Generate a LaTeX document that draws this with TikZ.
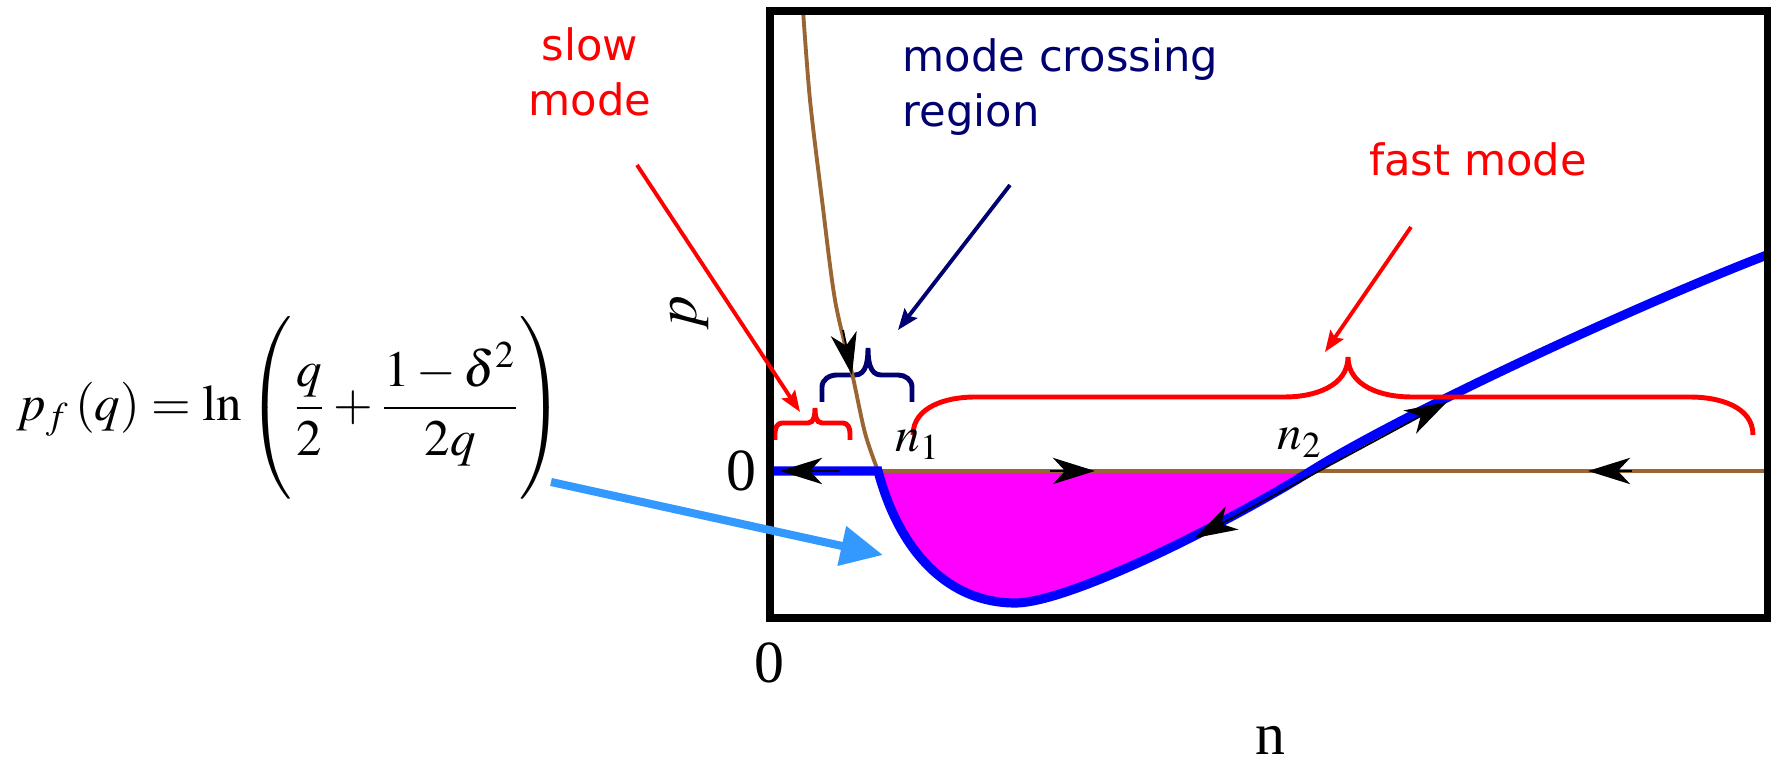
\documentclass[tikz,border=0pt]{standalone}
\usepackage{mathptmx}
\usepackage{fontspec}
\setmainfont{Liberation Serif}
\newfontfamily\handfont{DejaVu Sans}
\usetikzlibrary{arrows.meta}
\definecolor{soil}{RGB}{153,102,51}
\definecolor{ink}{RGB}{0,0,112}
\definecolor{sky}{RGB}{51,153,255}
\definecolor{fuchsia}{RGB}{255,0,255}

\begin{document}
\begin{tikzpicture}[x=0.01cm, y=0.01cm,
  >={Stealth[length=12pt,width=7.5pt,inset=3.5pt]},
  frame/.style={draw=black, line width=2pt},
  flow/.style={->, line width=0.5pt, black},
  hand/.style={font=\handfont\fontsize{12.3}{15.6}\selectfont, inner sep=0pt},
  axislab/.style={font=\fontsize{17}{20}\selectfont, inner sep=0pt},
  sublab/.style={font=\fontsize{14}{17}\selectfont, inner sep=0pt},
  eqlab/.style={font=\fontsize{14.5}{17}\selectfont, inner sep=0pt},
  pointer/.style={-{Stealth[length=6pt,width=4.5pt,inset=1pt]}, line width=1.1pt},
  bracket/.style={line width=1.4pt}
]
\useasboundingbox (0,0) rectangle (1772,764);

% area under the zero line
\fill[fuchsia] (878,293) .. controls (900,210) and (950,161) .. (1015,161)
  .. controls (1070,161) and (1231,243) .. (1311,293) -- cycle;

\draw[bracket, ink] (822,362) -- (822,377) to[out=90,in=180] (837,389) -- (855,389)
  to[out=0,in=-90] (868,416) to[out=-90,in=180] (881,389) -- (898,389)
  to[out=0,in=90] (912,377) -- (912,362);

\draw[soil, line width=1.1pt] plot[smooth] coordinates {(803,754) (810,664) (822,564)
  (835,464) (852,391) (865,331) (878,293)} -- (1767,293);

\draw[blue, line width=2.6pt] (770,293) -- (878,293)
  .. controls (900,210) and (950,161) .. (1015,161)
  .. controls (1070,161) and (1231,243) .. (1311,293)
  .. controls (1411,355) and (1647,463) .. (1767,509);

\draw[bracket, red] (775,324) -- (775,331) to[out=90,in=180] (782,341) -- (808,341)
  to[out=0,in=-90] (815,356) to[out=-90,in=180] (822,341) -- (843,341)
  to[out=0,in=90] (850,331) -- (850,324);
\draw[bracket, red] (913,329) to[out=90,in=180] (975,367) -- (1285,367)
  to[out=0,in=-90] (1348,407) to[out=-90,in=180] (1411,367) -- (1690,367)
  to[out=0,in=90] (1753,329);

% flow directions
\draw[flow] (840,293) -- (780,293);
\draw[flow] (1050,293) -- (1095,293);
\draw[flow] (1632,293) -- (1588,293);
\draw[flow] (843,434) -- (852,389);
\draw[flow, <->] (1195,226) -- (1447,362);

\draw[frame] (770,146) rectangle (1767,753);

\node[axislab] (zero) at (741,293) {0};
\node[axislab] (origin) at (769,101) {0};
\node[axislab, anchor=base] (nlab) at (1270,9) {n};
\node[axislab, rotate=90] (plab) at (690,451) {$p$};
\node[sublab, anchor=base west] (n1) at (895,312) {$n_1$};
\node[sublab, anchor=base west] (n2) at (1277,314) {$n_2$};

\node[eqlab, anchor=west] (eq) at (16,356)
  {$p_{f}\,(q)=\ln\left(\rule[-21pt]{0pt}{50pt}\displaystyle\frac{q}{2}+\frac{1-\delta^{2}}{2q}\right)$};

% labels and pointers
\node[hand, red, align=center, anchor=north] (slow) at (590,737) {slow\\mode};
\node[hand, ink, align=left, anchor=north west] (cross) at (902,726) {mode crossing\\region};
\node[hand, red, anchor=north] (fast) at (1478,622) {fast mode};

\coordinate (slowtail) at (637,599);
\coordinate (slowtip) at (800,352);
\coordinate (crosstail) at (1010,579);
\coordinate (crosstip) at (898,434);
\coordinate (fasttail) at (1411,537);
\coordinate (fasttip) at (1325,412);
\coordinate (eqtail) at (551,282);
\coordinate (welltip) at (883,209);
\draw[pointer, red] (slowtail) -- (slowtip);
\draw[pointer, ink] (crosstail) -- (crosstip);
\draw[pointer, red] (fasttail) -- (fasttip);
\draw[sky, line width=2.3pt, -{Triangle[length=12pt,width=11pt]}] (eqtail) -- (welltip);
\end{tikzpicture}
\end{document}
